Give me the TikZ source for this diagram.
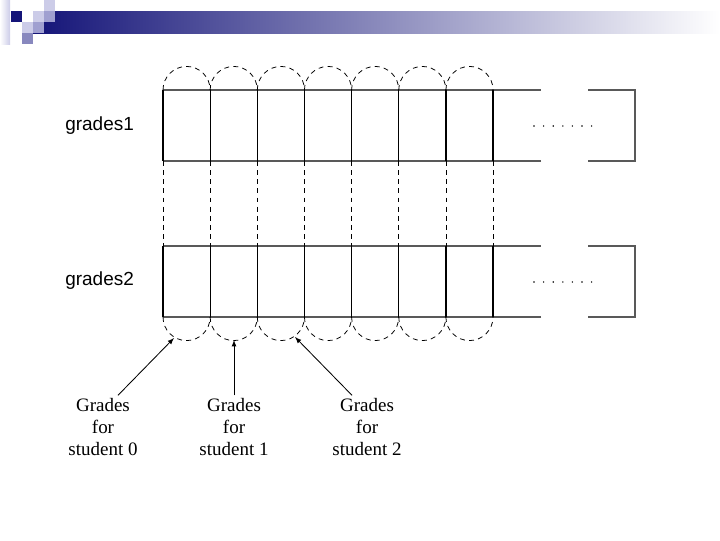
\documentclass[tikz,border=0pt]{standalone}
\usepackage{fontspec}
\setmainfont{Liberation Serif}
\newfontfamily\namefont{Liberation Sans}

\definecolor{slidenavy}{RGB}{20,20,120}
\definecolor{slidelight}{RGB}{204,204,232}
\definecolor{slidemid}{RGB}{160,160,208}
\definecolor{slidegray}{RGB}{136,136,190}

\begin{document}
\begin{tikzpicture}[x=0.025cm, y=-0.025cm,
        cellline/.style={line width=0.85pt},
        rowline/.style={line width=0.85pt, color=black!65},
        dashline/.style={line width=0.55pt, dash pattern=on 3.5pt off 3pt},
        arrayname/.style={anchor=west, inner sep=0pt, font=\namefont\fontsize{13.5}{16}\selectfont},
        studentlabel/.style={align=center, inner sep=2pt, font=\fontsize{13.5}{15.6}\selectfont}]
        \useasboundingbox (0,0) rectangle (720,540);

        % slide header
        \shade[left color=slidenavy, right color=white] (33,11) rectangle (720,33);
        \shade[left color=white, right color=slidelight] (0,0) rectangle (10,44);
        \fill[slidenavy] (11,11) rectangle (22,22);
        \fill[slidelight] (22,22) rectangle (33,33);
        \fill[slidelight] (33,11) rectangle (44,22);
        \fill[slidelight] (44,0) rectangle (55,11);
        \fill[slidemid] (44,11) rectangle (55,22);
        \fill[slidemid] (33,22) rectangle (44,33);
        \fill[slidegray] (22,33) rectangle (33,44);

        % the two arrays
        \foreach \top in {90,246} {
            \draw[rowline] (163,\top) -- (541,\top) (588,\top) -- (635,\top) -- (635,\top+71) -- (588,\top+71) (541,\top+71) -- (163,\top+71);
            \foreach \i in {0,...,7}
                \draw[cellline] ({163+47.15*\i},\top) -- ({163+47.15*\i},\top+71);
            \foreach \k in {0,...,6}
                \fill ({534+9.6*\k},\top+36) circle[radius=0.8];
        }

        % columns shared by the arrays
        \foreach \i in {0,...,7}
            \draw[dashline] ({163+47.15*\i},161) -- ({163+47.15*\i},246);
        \foreach \i in {0,...,6} {
            \draw[dashline] ({163+47.15*\i},90) arc[start angle=180, end angle=360, radius=23.575];
            \draw[dashline] ({163+47.15*\i},317) arc[start angle=180, end angle=0, radius=23.575];
        }

        % names
        \node (grades1) [arrayname] at (65,126) {grades1};
        \node (grades2) [arrayname] at (65,281) {grades2};

        % student labels
        \node (student0) [studentlabel] at (103,427) {Grades\\for\\student 0};
        \node (student1) [studentlabel] at (234,427) {Grades\\for\\student 1};
        \node (student2) [studentlabel] at (367,427) {Grades\\for\\student 2};

        \coordinate (tip0) at (174,338);
        \coordinate (tip1) at (234,340);
        \coordinate (tip2) at (295,337);

        \draw[-latex][line width=0.6pt] ([xshift=0.375cm]student0.north) -- (tip0);
        \draw[-latex][line width=0.6pt] (student1.north) -- (tip1);
        \draw[-latex][line width=0.6pt] ([xshift=-0.375cm]student2.north) -- (tip2);
    \end{tikzpicture}
\end{document}
